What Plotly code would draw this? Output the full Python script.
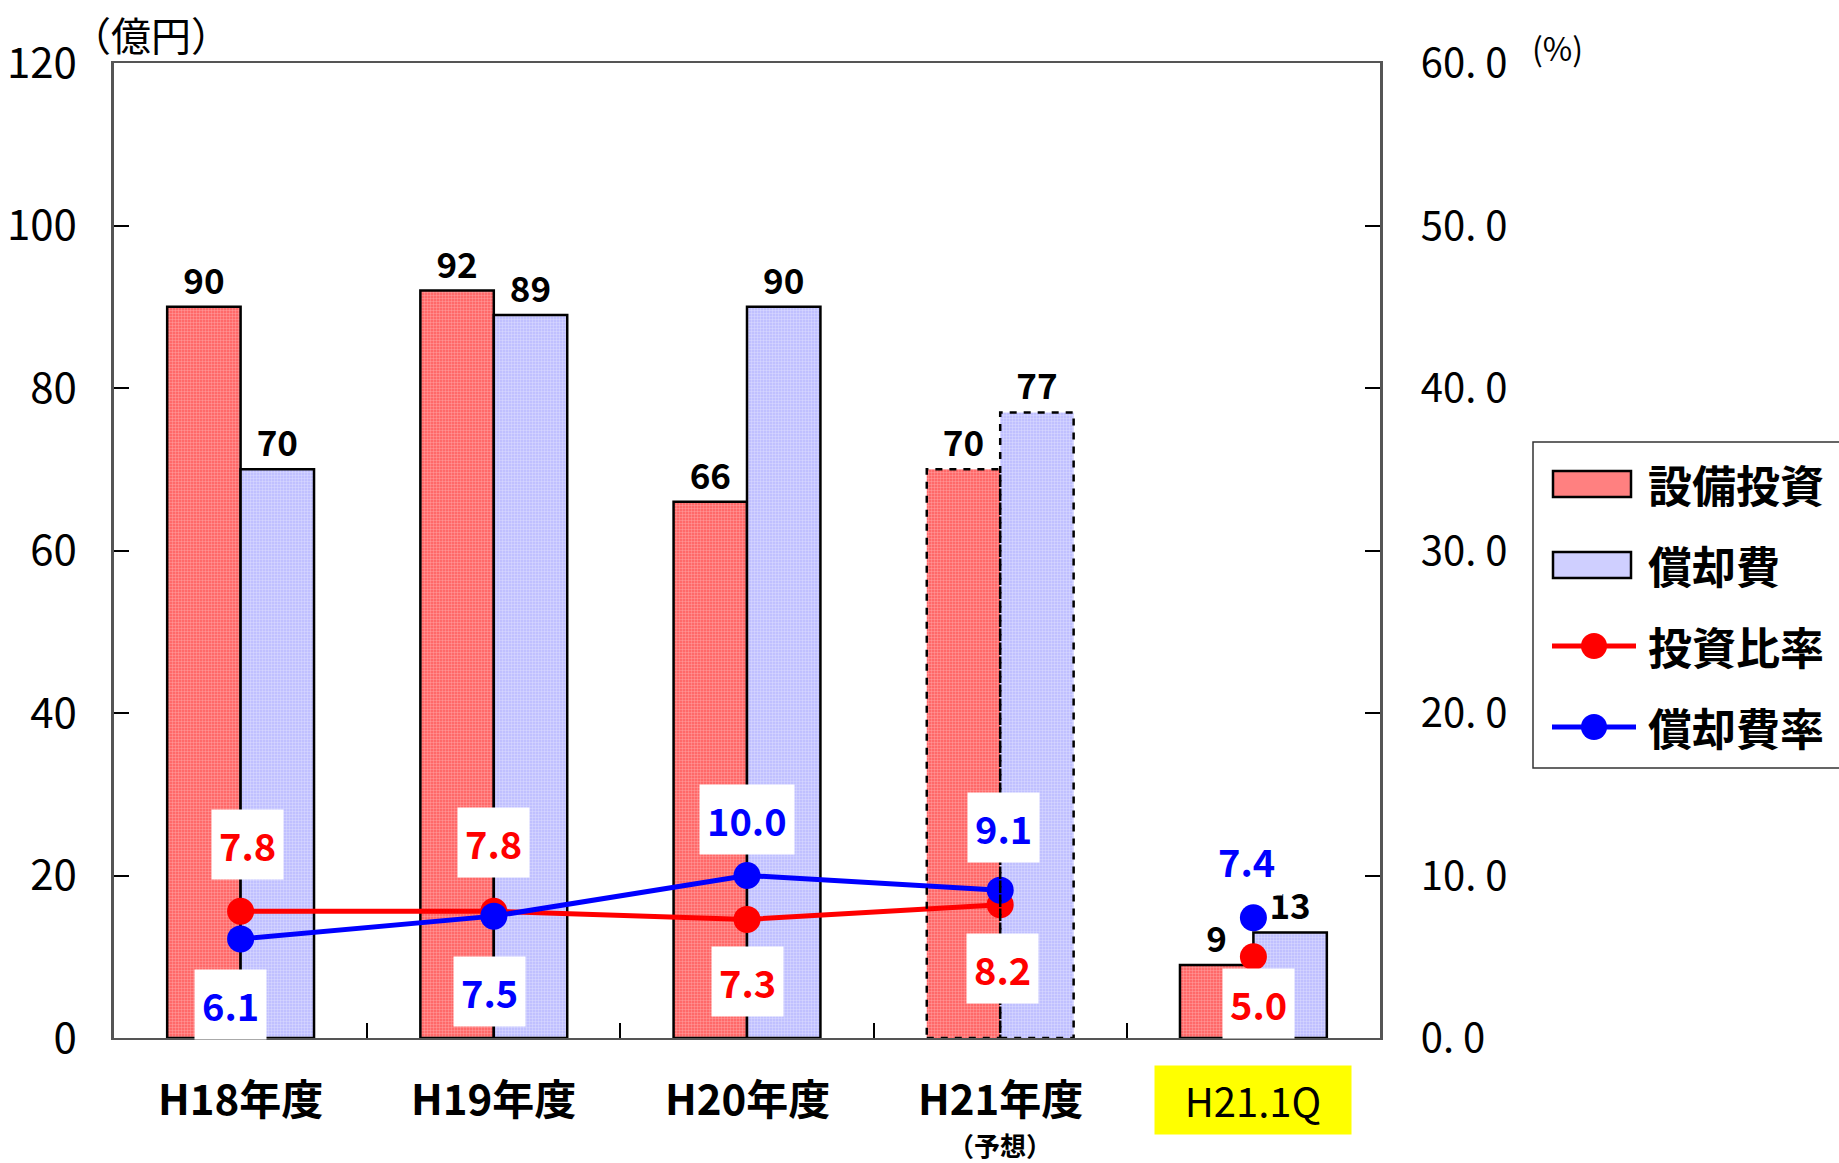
import plotly.graph_objects as go

# ---- data ----
categories = ["H18年度", "H19年度", "H20年度", "H21年度", "H21.1Q"]
forecast_note = "（予想）"
capex = [90, 92, 66, 70, 9]            # 設備投資 (億円)
depreciation = [70, 89, 90, 77, 13]    # 償却費 (億円)
capex_ratio = [7.8, 7.8, 7.3, 8.2, 5.0]   # 投資比率 (%)
dep_ratio = [6.1, 7.5, 10.0, 9.1, 7.4]    # 償却費率 (%)
left_ticks = [0, 20, 40, 60, 80, 100, 120]
right_ticks = [0, 10, 20, 30, 40, 50, 60]
right_tick_text = ["0. 0", "10. 0", "20. 0", "30. 0", "40. 0", "50. 0", "60. 0"]
forecast_index = 3   # H21年度 is a forecast (dashed outline)
quarter_index = 4    # H21.1Q is plotted apart from the yearly lines

# ---- style ----
FONT = "Noto Sans CJK JP"
RED = "#ff0000"
BLUE = "#0000ff"
RED_BAR = "#ff5a5a"
RED_DOT = "#ffcccc"
BLUE_BAR = "#b8b8ff"
BLUE_DOT = "#f2f2ff"
BARGAP = 0.42
W, H = 1839, 1163
ML, MR, MT, MB = 114, 459, 63, 125
PW, PH = W - ML - MR, H - MT - MB


def px(x):
    """pixel x -> paper x"""
    return (x - ML) / PW


def py(y):
    """pixel y (from top) -> paper y"""
    return (H - MB - y) / PH


# label offsets in pixels (xshift, yshift)
capex_ratio_shift = [(7, 67), (0, 69), (0, -62), (2, -64), (5, -47)]
dep_ratio_shift = [(-10, -66), (-4, -75), (0, 56), (3, 63), (-7, 57)]

fig = go.Figure()

line_w = [0 if i == forecast_index else 2.5 for i in range(len(categories))]

fig.add_trace(go.Bar(
    x=categories, y=capex, name="設備投資",
    marker=dict(color=RED_BAR, line=dict(color="black", width=line_w),
                pattern=dict(shape=".", fgcolor=RED_DOT, size=3, solidity=0.5,
                             fillmode="overlay")),
    text=capex, textposition="outside",
    textfont=dict(family=FONT, size=35, color="black", weight="bold"),
    cliponaxis=False, showlegend=False,
))
fig.add_trace(go.Bar(
    x=categories, y=depreciation, name="償却費",
    marker=dict(color=BLUE_BAR, line=dict(color="black", width=line_w),
                pattern=dict(shape=".", fgcolor=BLUE_DOT, size=3, solidity=0.5,
                             fillmode="overlay")),
    text=depreciation, textposition="outside",
    textfont=dict(family=FONT, size=35, color="black", weight="bold"),
    cliponaxis=False, showlegend=False,
))

yearly = categories[:quarter_index]
for vals, color, name in [(capex_ratio, RED, "投資比率"), (dep_ratio, BLUE, "償却費率")]:
    fig.add_trace(go.Scatter(
        x=yearly, y=vals[:quarter_index], name=name, yaxis="y2",
        mode="lines+markers", line=dict(color=color, width=5),
        marker=dict(color=color, size=27), showlegend=False, cliponaxis=False,
    ))
    fig.add_trace(go.Scatter(
        x=[categories[quarter_index]], y=[vals[quarter_index]], yaxis="y2",
        mode="markers", marker=dict(color=color, size=27),
        showlegend=False, cliponaxis=False,
    ))

# dashed outline for the forecast bars
half = (1 - BARGAP) / 2
for x0, x1, v in [(forecast_index - half, forecast_index, capex[forecast_index]),
                  (forecast_index, forecast_index + half, depreciation[forecast_index])]:
    fig.add_shape(type="rect", xref="x", yref="y", x0=x0, x1=x1, y0=0, y1=v,
                  line=dict(color="black", width=2.5, dash="7px,7px"), layer="above")

annotations = []
# ratio labels in white boxes
for vals, shifts, color in [(capex_ratio, capex_ratio_shift, RED),
                            (dep_ratio, dep_ratio_shift, BLUE)]:
    for cat, v, (dx, dy) in zip(categories, vals, shifts):
        annotations.append(dict(
            x=cat, y=v, xref="x", yref="y2", text=f"{v:.1f}", showarrow=False,
            xshift=dx, yshift=dy, bgcolor="white", borderpad=7,
            font=dict(family=FONT, size=38, color=color, weight="bold"),
        ))

# category labels under the axis
for i, lab in enumerate(categories):
    ann = dict(x=lab, y=0, xref="x", yref="paper", text=lab, showarrow=False,
               xanchor="center", yanchor="middle", yshift=-58,
               font=dict(family=FONT, size=42, color="black", weight="bold"))
    if i == quarter_index:
        ann.update(bgcolor="#ffff00", width=180, height=52, borderpad=8, yshift=-62,
                   font=dict(family=FONT, size=40, color="black"))
    annotations.append(ann)
annotations.append(dict(x=categories[forecast_index], y=0, xref="x", yref="paper",
                        text=forecast_note, showarrow=False, xanchor="center",
                        yanchor="middle", yshift=-106,
                        font=dict(family=FONT, size=26, color="black", weight="bold")))

# axis unit labels
annotations.append(dict(x=px(151), y=py(34), xref="paper", yref="paper", text="（億円）",
                        showarrow=False, xanchor="center", yanchor="middle",
                        font=dict(family=FONT, size=40, color="black")))
annotations.append(dict(x=px(1557), y=py(47), xref="paper", yref="paper", text="(%)",
                        showarrow=False, xanchor="center", yanchor="middle",
                        font=dict(family=FONT, size=32, color="black")))

# legend drawn as a framed box at the right
shapes = [dict(type="rect", xref="paper", yref="paper", x0=px(1533), x1=px(1850),
               y0=py(768), y1=py(442), line=dict(color="#333333", width=1.5),
               fillcolor="white")]
legend_rows = [("設備投資", "bar", "#ff8080", 484),
               ("償却費", "bar", "#cfcfff", 565),
               ("投資比率", "line", RED, 646),
               ("償却費率", "line", BLUE, 727)]
for text, kind, color, yc in legend_rows:
    if kind == "bar":
        shapes.append(dict(type="rect", xref="paper", yref="paper",
                           x0=px(1553), x1=px(1631), y0=py(yc + 13), y1=py(yc - 13),
                           line=dict(color="black", width=2.5), fillcolor=color))
    else:
        shapes.append(dict(type="line", xref="paper", yref="paper",
                           x0=px(1552), x1=px(1636), y0=py(yc), y1=py(yc),
                           line=dict(color=color, width=5)))
        shapes.append(dict(type="circle", xref="paper", yref="paper",
                           x0=px(1581), x1=px(1607), y0=py(yc + 13), y1=py(yc - 13),
                           line=dict(color=color, width=0), fillcolor=color))
    annotations.append(dict(x=px(1646), y=py(yc), xref="paper", yref="paper",
                            xanchor="left", yanchor="middle", text=text, showarrow=False,
                            font=dict(family=FONT, size=44, color="black", weight="bold")))

for s in shapes:
    fig.add_shape(**s)

fig.update_layout(
    width=W, height=H,
    margin=dict(l=ML, r=MR, t=MT, b=MB, autoexpand=False),
    paper_bgcolor="white", plot_bgcolor="white",
    barmode="group", bargap=BARGAP, bargroupgap=0,
    showlegend=False,
    annotations=annotations,
    font=dict(family=FONT, color="black"),
    xaxis=dict(type="category", showline=True, linecolor="#555555", linewidth=2,
               mirror=True, ticks="inside", tickson="boundaries", ticklen=15,
               tickcolor="black", tickwidth=1.5, showticklabels=False,
               showgrid=False, zeroline=False),
    yaxis=dict(range=[0, 120], tickvals=left_ticks, showline=True, linecolor="#555555",
               linewidth=2.5, ticks="inside", ticklen=15, tickcolor="black", tickwidth=1.5,
               tickfont=dict(family=FONT, size=42, color="black"),
               ticklabelstandoff=26, showgrid=False, zeroline=False),
    yaxis2=dict(range=[0, 60], tickvals=right_ticks, ticktext=right_tick_text,
                overlaying="y", side="right", showline=True, linecolor="#555555",
                linewidth=2.5, ticks="inside", ticklen=15, tickcolor="black",
                tickwidth=1.5, tickfont=dict(family=FONT, size=40, color="black"),
                ticklabelstandoff=30, showgrid=False, zeroline=False),
)

fig.write_html("out.html")
